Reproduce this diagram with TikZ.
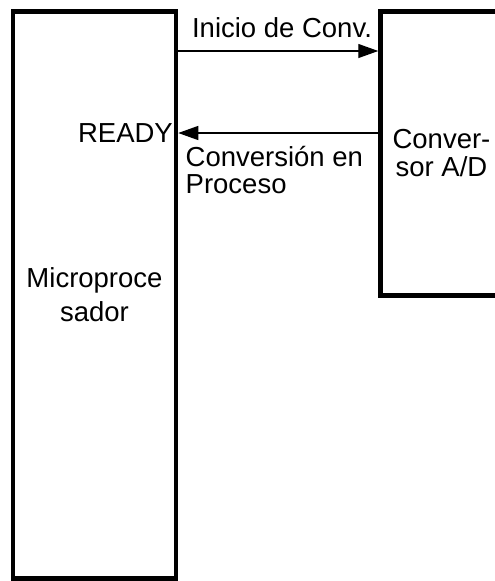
\documentclass[tikz,border=0pt]{standalone}
\usepackage{fontspec}
\setmainfont{Liberation Sans}
\usetikzlibrary{arrows.meta,positioning}

\begin{document}
\begin{tikzpicture}[x=1pt, y=-1pt,
  blk/.style={draw=black, line width=4.5pt, align=center, inner sep=0pt, font=\fontsize{27.5}{28}\selectfont},
  sig/.style={draw=black, line width=1.3pt, -{Triangle[length=20pt, width=14pt]}},
  lbl/.style={inner sep=0pt, align=left, font=\fontsize{27.5}{27.5}\selectfont}
]
  \useasboundingbox (0,0) rectangle (495,581);

  %% Blocks
  \node[blk, minimum width=163pt, minimum height=567pt, font=\fontsize{27.5}{34}\selectfont] (micro) at (94.5,294.8) {Microproce\\sador};
  \node[blk, minimum width=122pt, minimum height=284pt] (conv) at (441.5,153.5) {Conver-\\sor A/D};

  %% Signals
  \draw[sig] (micro.east |- 0,51) -- (conv.west |- 0,51);
  \draw[sig] (conv.west |- 0,133) -- (micro.east |- 0,133);

  %% Labels
  \node[lbl, anchor=base] (start) at (282,37) {Inicio de Conv.};
  \node[lbl, anchor=base east] (ready) at (173,142) {READY};
  \node[lbl, anchor=north west] (busy) at (185.5,146) {Conversión en\\Proceso};
\end{tikzpicture}
\end{document}
